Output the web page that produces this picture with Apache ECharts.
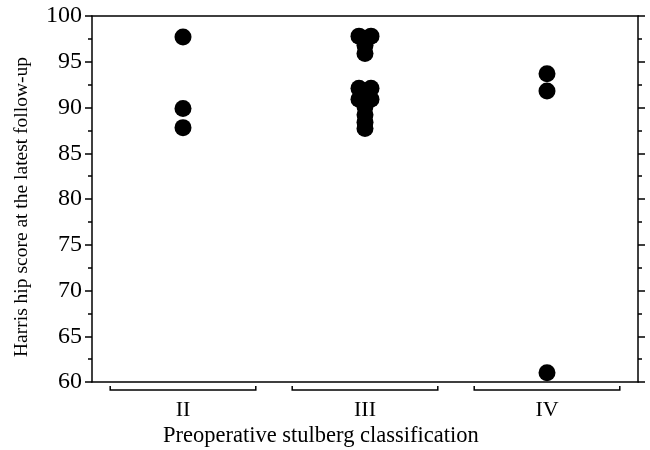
<!DOCTYPE html>
<html>
<head>
<meta charset="utf-8">
<script src="https://cdn.jsdelivr.net/npm/echarts@6/dist/echarts.min.js"></script>
<style>html,body{margin:0;padding:0;background:#fff}#c{width:650px;height:450px}</style>
</head>
<body>
<div id="c"></div>
<script>
var categories = ['II', 'III', 'IV'];
var scoresII = [97.7, 89.9, 87.8];
var scoresIII = [97.8, 97.8, 96.8, 95.9, 92.1, 92.1, 90.9, 90.9, 90.1, 89.2, 88.4, 87.7];
var scoresIV = [93.7, 91.8, 61.0];
var yTicks = [60, 65, 70, 75, 80, 85, 90, 95, 100];
var xName = 'Preoperative stulberg classification';
var yName = 'Harris hip score at the latest follow-up';

var groups = [scoresII, scoresIII, scoresIV];
var FONT = '"Liberation Serif", "Times New Roman", serif';

// dodge identical values horizontally within a category
var points = [];
groups.forEach(function (vals, ci) {
  var counts = {};
  vals.forEach(function (v) { counts[v] = (counts[v] || 0) + 1; });
  var seen = {};
  vals.forEach(function (v) {
    var n = counts[v];
    var i = seen[v] || 0;
    seen[v] = i + 1;
    points.push([ci + (i - (n - 1) / 2) * 0.066, v]);
  });
});

var chart = echarts.init(document.getElementById('c'));
chart.setOption({
  backgroundColor: '#fff',
  animation: false,
  grid: { left: 92, right: 12, top: 16, bottom: 68 },
  xAxis: [
    {
      type: 'category', data: categories, position: 'bottom',
      axisLine: { show: true, onZero: false, lineStyle: { color: '#000', width: 1.5 } },
      axisTick: { show: false },
      axisLabel: { color: '#000', fontSize: 22, fontFamily: FONT, margin: 17 },
      splitLine: { show: false }
    },
    { type: 'value', min: -0.5, max: 2.5, show: false },
    {
      type: 'category', data: categories, position: 'top',
      axisLine: { show: true, onZero: false, lineStyle: { color: '#000', width: 1.5 } },
      axisTick: { show: false }, axisLabel: { show: false }, splitLine: { show: false }
    }
  ],
  yAxis: [
    {
      type: 'value', min: yTicks[0], max: yTicks[yTicks.length - 1], interval: 5, position: 'left',
      name: yName, nameLocation: 'middle', nameGap: 60,
      nameTextStyle: { color: '#000', fontSize: 19.5, fontFamily: FONT, padding: [0, 16, 0, 0] },
      axisLine: { show: true, onZero: false, lineStyle: { color: '#000', width: 1.5 } },
      axisTick: { show: true, inside: false, length: 7, lineStyle: { color: '#000', width: 1.5 } },
      minorTick: { show: true, splitNumber: 2, length: 4, lineStyle: { color: '#000', width: 1.5 } },
      axisLabel: { color: '#000', fontSize: 24, fontFamily: FONT, margin: 10 },
      splitLine: { show: false }
    },
    {
      type: 'value', min: yTicks[0], max: yTicks[yTicks.length - 1], interval: 5, position: 'right',
      axisLine: { show: true, onZero: false, lineStyle: { color: '#000', width: 1.5 } },
      axisTick: { show: true, inside: false, length: 7, lineStyle: { color: '#000', width: 1.5 } },
      minorTick: { show: true, splitNumber: 2, length: 4, lineStyle: { color: '#000', width: 1.5 } },
      axisLabel: { show: false },
      splitLine: { show: false }
    }
  ],
  graphic: [{
    type: 'text', left: 163, top: 425,
    style: { text: xName, fill: '#000', fontSize: 22.5, fontFamily: FONT }
  }],
  series: [
    {
      type: 'custom', xAxisIndex: 0, yAxisIndex: 0, clip: false, silent: true,
      data: categories.map(function (c, i) { return [i, yTicks[0]]; }),
      renderItem: function (params, api) {
        var p = api.coord([api.value(0), api.value(1)]);
        var bw = api.size([1, 0])[0];
        var inset = bw * 0.1;
        var y = p[1] + 8;
        var x0 = p[0] - bw / 2 + inset, x1 = p[0] + bw / 2 - inset;
        return {
          type: 'polyline',
          shape: { points: [[x0, y - 4], [x0, y], [x1, y], [x1, y - 4]] },
          style: { stroke: '#000', lineWidth: 1.5, fill: null }
        };
      }
    },
    {
      type: 'scatter', xAxisIndex: 1, yAxisIndex: 0,
      symbol: 'circle', symbolSize: 17,
      itemStyle: { color: '#000', opacity: 1 },
      data: points
    }
  ]
});
</script>
</body>
</html>
